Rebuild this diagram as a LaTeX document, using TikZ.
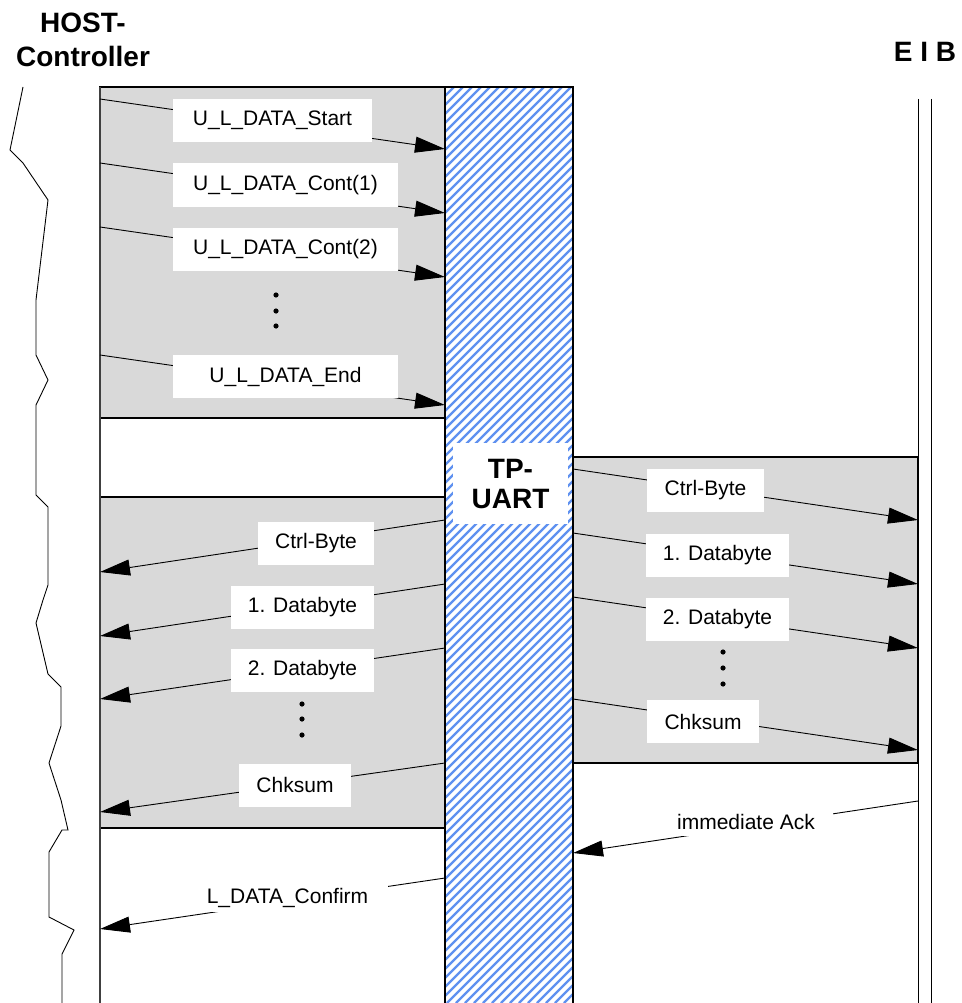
\documentclass[tikz,border=0pt]{standalone}
\usepackage{fontspec}
\setmainfont{Liberation Sans}
\usetikzlibrary{arrows.meta}
\definecolor{panelgray}{RGB}{217,217,217}
\definecolor{hatchblue}{RGB}{95,145,240}
\begin{document}
\begin{tikzpicture}[x=1pt,y=-1pt,
  msg/.style={draw=black, line width=0.9pt, -{Triangle[length=30pt,width=16pt]}},
  lbl/.style={fill=white, inner sep=0pt, minimum height=43pt, font=\fontsize{21}{25}\selectfont},
  freelbl/.style={fill=white, inner sep=0pt, minimum height=28pt, font=\fontsize{21}{25}\selectfont},
  panel/.style={fill=panelgray, draw=black, line width=1.2pt},
  hatchline/.style={draw=hatchblue, line width=2.2pt},
  dotmark/.style={fill=black, draw=none},
  title/.style={font=\fontsize{28}{34}\selectfont\bfseries, align=center, inner sep=0pt}]
\useasboundingbox (0,0) rectangle (961,1003);
\fill[white] (0,0) rectangle (961,1003);

% panels
\draw[panel] (100,87) rectangle (445,418);
\draw[panel] (100,497) rectangle (445,828);
\draw[panel] (573,457) rectangle (918,763);

% hatched TP-UART column
\begin{scope}
  \clip (445,87) rectangle (573,1003);
  \foreach \k in {0,...,118} {
    \draw[hatchline] ({573-9*\k},1003) -- ++(1000,-1000);
  }
\end{scope}
\draw[black, line width=1.2pt] (445,1003) -- (445,87) -- (573,87) -- (573,1003);

% host controller lines
\draw[black!75, line width=1.6pt] (100,87) -- (100,1003);
\draw[black, line width=0.9pt] (23,87) -- (10,150) -- (23,163) -- (48,200) -- (36,300) -- (36,355)
  -- (48,380) -- (36,405) -- (36,495) -- (48,507) -- (48,585) -- (43,600) -- (36,623)
  -- (48,674) -- (61,687) -- (61,726) -- (49,763) -- (61,800) -- (68,830) -- (62,830)
  -- (49,852) -- (49,917) -- (74,930) -- (62,954) -- (62,1003);

% EIB lines
\draw[black, line width=0.9pt] (918,99) -- (918,1003);
\draw[black, line width=0.9pt] (931,99) -- (931,1003);
\draw[black, line width=1.8pt] (918,457) -- (918,763);

% endpoints
\coordinate (hs1) at (100,99);  \coordinate (ht1) at (445,149);
\coordinate (hs2) at (100,163); \coordinate (ht2) at (445,213);
\coordinate (hs3) at (100,227); \coordinate (ht3) at (445,277);
\coordinate (hs4) at (100,355); \coordinate (ht4) at (445,405);
\coordinate (us1) at (445,520); \coordinate (ut1) at (100,572);
\coordinate (us2) at (445,584); \coordinate (ut2) at (100,636);
\coordinate (us3) at (445,648); \coordinate (ut3) at (100,699);
\coordinate (us4) at (445,763); \coordinate (ut4) at (100,812);
\coordinate (bs1) at (573,469); \coordinate (bt1) at (918,520);
\coordinate (bs2) at (573,533); \coordinate (bt2) at (918,584);
\coordinate (bs3) at (573,597); \coordinate (bt3) at (918,648);
\coordinate (bs4) at (573,699); \coordinate (bt4) at (918,750);
\coordinate (ackS) at (918,801); \coordinate (ackT) at (573,853);
\coordinate (cfS) at (445,878);  \coordinate (cfT) at (100,929);

% arrows
\foreach \p in {h,u,b} {
  \foreach \i in {1,2,3,4} {
    \draw[msg] (\p s\i) -- (\p t\i);
  }
}
\draw[msg] (ackS) -- (ackT);
\draw[msg] (cfS) -- (cfT);

% labels: host -> TP-UART
\node[lbl, minimum width=199pt] (l1) at (272.5,120.5) {U\_L\_DATA\_Start};
\node[lbl, minimum width=225pt] (l2) at (285.5,185) {U\_L\_DATA\_Cont(1)};
\node[lbl, minimum width=225pt] (l3) at (285.5,249) {U\_L\_DATA\_Cont(2)};
\node[lbl, minimum width=225pt] (l4) at (285.5,376.5) {U\_L\_DATA\_End};
\foreach \y in {295,311,326} \fill[dotmark] (276,\y) circle (2.6);

% labels: TP-UART -> host
\node[lbl, minimum width=116pt] (u1) at (316,543) {Ctrl-Byte};
\node[lbl, minimum width=143pt] (u2) at (302.5,607) {1. Databyte};
\node[lbl, minimum width=143pt] (u3) at (302.5,670.5) {2. Databyte};
\node[lbl, minimum width=112pt] (u4) at (295,785) {Chksum};
\foreach \y in {704,719,735} \fill[dotmark] (302,\y) circle (2.6);

% labels: TP-UART -> bus
\node[lbl, minimum width=117pt] (b1) at (705.5,490.5) {Ctrl-Byte};
\node[lbl, minimum width=143pt] (b2) at (717.5,555) {1. Databyte};
\node[lbl, minimum width=143pt] (b3) at (717.5,619) {2. Databyte};
\node[lbl, minimum width=112pt] (b4) at (703,721.5) {Chksum};
\foreach \y in {652,668,684} \fill[dotmark] (723,\y) circle (2.6);

% free labels
\node[freelbl, minimum width=174pt] (ack) at (746,822) {immediate Ack};
\node[freelbl, minimum width=201pt] (cf) at (287.5,898) {L\_DATA\_Confirm};

% TP-UART
\node[fill=white, inner sep=0pt, minimum width=115pt, minimum height=81pt,
      font=\fontsize{28}{30}\selectfont\bfseries, align=center] (tpuart) at (510.5,483.5) {TP-\\UART};

% titles
\node[title] (host) at (83,40) {HOST-\\Controller};
\node[title] (eib) at (925,52) {E I B};
\end{tikzpicture}
\end{document}
